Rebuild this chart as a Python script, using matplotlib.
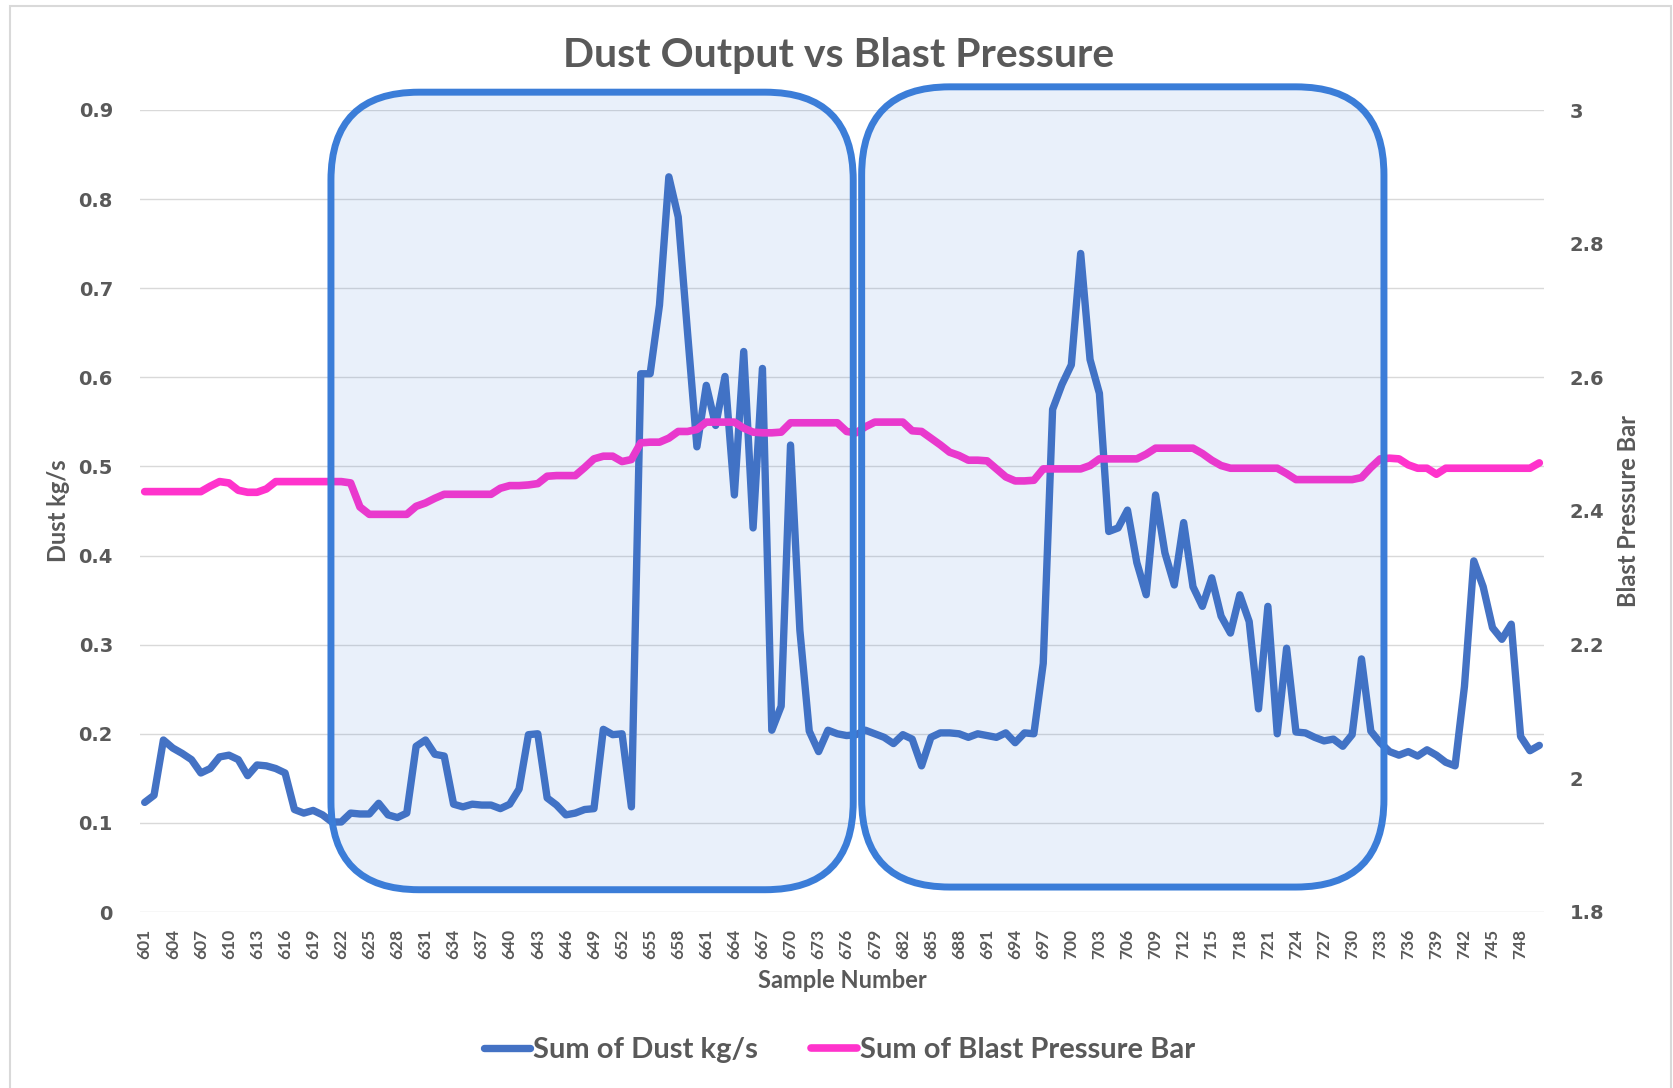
import matplotlib
matplotlib.use("Agg")
import matplotlib.pyplot as plt
from matplotlib.patches import FancyBboxPatch, Rectangle
from matplotlib.transforms import IdentityTransform

# sample numbers on the category axis
samples = list(range(601, 751))

# Sum of Dust kg/s (601..750)
dust = [
    0.123, 0.131, 0.193, 0.184, 0.178, 0.171, 0.156, 0.161, 0.174, 0.176,
    0.171, 0.153, 0.165, 0.164, 0.161, 0.156, 0.115, 0.111, 0.114, 0.109,
    0.101, 0.101, 0.111, 0.110, 0.110, 0.122, 0.109, 0.106, 0.111, 0.186,
    0.193, 0.177, 0.175, 0.121, 0.118, 0.121, 0.120, 0.120, 0.116, 0.121,
    0.138, 0.199, 0.200, 0.128, 0.120, 0.109, 0.111, 0.115, 0.116, 0.205,
    0.199, 0.200, 0.118, 0.604, 0.604, 0.681, 0.825, 0.780, 0.650, 0.522,
    0.591, 0.546, 0.601, 0.468, 0.629, 0.431, 0.610, 0.204, 0.231, 0.524,
    0.316, 0.203, 0.180, 0.204, 0.200, 0.198, 0.199, 0.204, 0.200, 0.196,
    0.189, 0.199, 0.194, 0.164, 0.196, 0.201, 0.201, 0.200, 0.196, 0.200,
    0.198, 0.196, 0.201, 0.190, 0.201, 0.200, 0.279, 0.564, 0.592, 0.614,
    0.739, 0.620, 0.582, 0.427, 0.431, 0.451, 0.392, 0.356, 0.468, 0.403,
    0.367, 0.437, 0.365, 0.343, 0.375, 0.332, 0.313, 0.356, 0.326, 0.228,
    0.343, 0.200, 0.296, 0.202, 0.201, 0.196, 0.192, 0.194, 0.186, 0.199,
    0.284, 0.203, 0.190, 0.180, 0.176, 0.180, 0.175, 0.182, 0.176, 0.168,
    0.164, 0.253, 0.394, 0.365, 0.319, 0.306, 0.323, 0.197, 0.181, 0.187,
]

# Sum of Blast Pressure Bar (secondary axis)
pressure = [
    2.429, 2.429, 2.429, 2.429, 2.429, 2.429, 2.429, 2.437, 2.444, 2.442,
    2.431, 2.428, 2.428, 2.433, 2.444, 2.444, 2.444, 2.444, 2.444, 2.444,
    2.444, 2.444, 2.442, 2.406, 2.395, 2.395, 2.395, 2.395, 2.395, 2.407,
    2.412, 2.419, 2.425, 2.425, 2.425, 2.425, 2.425, 2.425, 2.434, 2.438,
    2.438, 2.439, 2.441, 2.452, 2.453, 2.453, 2.453, 2.465, 2.478, 2.482,
    2.482, 2.474, 2.477, 2.502, 2.503, 2.503, 2.509, 2.519, 2.519, 2.522,
    2.533, 2.533, 2.533, 2.533, 2.524, 2.518, 2.517, 2.517, 2.518, 2.532,
    2.532, 2.532, 2.532, 2.532, 2.532, 2.519, 2.517, 2.526, 2.533, 2.533,
    2.533, 2.533, 2.520, 2.519, 2.509, 2.499, 2.488, 2.483, 2.476, 2.476,
    2.475, 2.463, 2.451, 2.445, 2.445, 2.446, 2.463, 2.463, 2.463, 2.463,
    2.463, 2.468, 2.478, 2.478, 2.478, 2.478, 2.478, 2.485, 2.494, 2.494,
    2.494, 2.494, 2.494, 2.486, 2.476, 2.468, 2.464, 2.464, 2.464, 2.464,
    2.464, 2.464, 2.456, 2.447, 2.447, 2.447, 2.447, 2.447, 2.447, 2.447,
    2.450, 2.465, 2.478, 2.479, 2.478, 2.469, 2.464, 2.464, 2.455, 2.464,
    2.464, 2.464, 2.464, 2.464, 2.464, 2.464, 2.464, 2.464, 2.464, 2.472,
]

tick_samples = samples[::3]
dust_ticks = [0, 0.1, 0.2, 0.3, 0.4, 0.5, 0.6, 0.7, 0.8, 0.9]
dust_tick_labels = ["0", "0.1", "0.2", "0.3", "0.4", "0.5", "0.6", "0.7", "0.8", "0.9"]
pressure_ticks = [1.8, 2.0, 2.2, 2.4, 2.6, 2.8, 3.0]
pressure_tick_labels = ["1.8", "2", "2.2", "2.4", "2.6", "2.8", "3"]

# the two highlighted sample windows (drawn as rounded boxes)
box_start = [620.9, 677.6]
box_end = [676.7, 733.4]
box_top = [0.920, 0.926]
box_bottom = [0.025, 0.028]

GREY = "#595959"
W, H = 1674, 1088

fig = plt.figure(figsize=(W / 100, H / 100), dpi=100)
ax = fig.add_axes([140 / W, 176 / H, 1404 / W, 802 / H])
ax2 = ax.twinx()

l1, = ax.plot(samples, dust, color="#4472C4", lw=5.3,
              solid_capstyle="round", solid_joinstyle="round",
              label="Sum of Dust kg/s")
l2, = ax2.plot(samples, pressure, color="#FF33CC", lw=5.5,
               solid_capstyle="round", solid_joinstyle="round",
               label="Sum of Blast Pressure Bar")

ax.set_xlim(600.5, 750.5)
ax.set_ylim(0, 0.9)
ax2.set_ylim(1.8, 3.0)

ax.set_yticks(dust_ticks, labels=dust_tick_labels, fontfamily="DejaVu Sans",
              fontweight="bold", fontsize=14, color=GREY)
ax2.set_yticks(pressure_ticks, labels=pressure_tick_labels, fontfamily="DejaVu Sans",
               fontweight="bold", fontsize=14, color=GREY)
ax.set_xticks(tick_samples, labels=[str(s) for s in tick_samples], rotation=90,
              fontfamily="Lato", fontweight="bold", fontsize=12.5, color=GREY)

ax.tick_params(axis="both", length=0)
ax2.tick_params(axis="both", length=0)
ax.tick_params(axis="y", pad=19.5)
ax2.tick_params(axis="y", pad=18.5)
ax.tick_params(axis="x", pad=12)

ax.grid(axis="y", color="#D9D9D9", lw=1.0)
ax.set_axisbelow(True)
for a in (ax, ax2):
    for s in a.spines.values():
        s.set_visible(False)

lab_font = dict(family="Lato", weight="bold", size=17, color=GREY)
ax.set_ylabel("Dust kg/s", **lab_font)
ax.yaxis.set_label_coords((59 - 140) / 1404, 0.5)
ax.yaxis.label.set_va("center")
ax2.set_ylabel("Blast Pressure Bar", **lab_font)
ax2.yaxis.set_label_coords((1629 - 140) / 1404, 0.5)
ax2.yaxis.label.set_va("center")
ax.set_xlabel("Sample Number", **lab_font)
ax.xaxis.set_label_coords(0.5, (108 - 176) / 802)
ax.xaxis.label.set_va("center")

fig.text(839 / W, 1032 / H, "Dust Output vs Blast Pressure", ha="center", va="center",
         family="Lato", weight="bold", size=29.5, color=GREY)

fig.legend([l1, l2], [l1.get_label(), l2.get_label()], loc="center",
           bbox_to_anchor=(839.5 / W, 38 / H), ncol=2, frameon=False,
           prop=dict(family="Lato", weight="bold", size=21), labelcolor=GREY,
           handlelength=1.6, handletextpad=0.1, columnspacing=1.8)

# rounded highlight boxes, placed from data coords but drawn in pixels
for x0, x1, y0, y1 in zip(box_start, box_end, box_bottom, box_top):
    px0, py0 = ax.transData.transform((x0, y0))
    px1, py1 = ax.transData.transform((x1, y1))
    box = FancyBboxPatch((px0, py0), px1 - px0, py1 - py0,
                         boxstyle="round,pad=0,rounding_size=88",
                         transform=IdentityTransform(),
                         facecolor=(45 / 255, 115 / 255, 215 / 255, 0.10),
                         edgecolor="#3B7DD8", lw=5, zorder=5, clip_on=False)
    fig.add_artist(box)

# chart area border
fig.add_artist(Rectangle((10, -20), 1661, 1102, transform=IdentityTransform(),
                         fill=False, edgecolor="#D9D9D9", lw=1.5))

fig.savefig("out.png", dpi=100)
